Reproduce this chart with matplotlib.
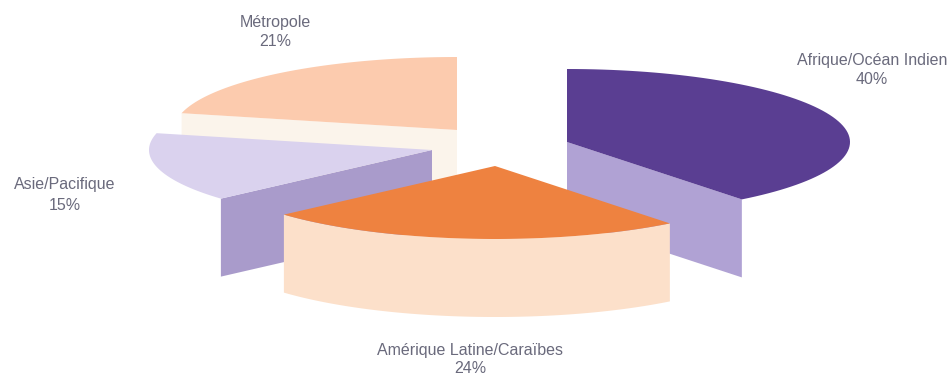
import numpy as np
import matplotlib.pyplot as plt

TITLE = "Exploded 3D pie"

names = ["Afrique/Océan Indien", "Amérique Latine/Caraïbes", "Asie/Pacifique", "Métropole"]
shares = [40, 24, 15, 21]
# the slices as drawn are a little off the printed shares
drawn_shares = [39.4, 24.0, 15.3, 21.3]

top_colors = ["#5A3E92", "#EE8240", "#DAD2EE", "#FCCBAE"]
wall_colors = ["#B0A2D4", "#FCE0CA", "#A99BCB", "#FBF4EB"]

# which face of the slice is seen: end cut, outer arc, start cut
wall_kinds = ["end", "arc", "start", "start"]

# pixel layout of the exploded slices
centers = [(567, 142), (495, 166), (432, 150), (457, 130)]
depths = [78, 78, 78, 62]
label_x = [872, 470, 65, 275]
label_y = [60, 350, 185, 22]
label_gap = [19, 18.5, 20, 19]
label_size = 11.5
rx = 283
ry = 73


def edge(center, ang):
    a = np.radians(ang)
    return center[0] + rx * np.sin(a), center[1] - ry * np.cos(a)


def plotter():
    fig = plt.figure(figsize=(9.5, 3.76), dpi=100)
    ax = fig.add_axes([0, 0, 1, 1])
    ax.set_xlim(0, 950)
    ax.set_ylim(376, 0)
    ax.axis("off")

    # clockwise from 12 o'clock
    stops = np.cumsum([0] + drawn_shares) * 3.6

    # back to front so the orange slice ends up on top
    for i in [3, 0, 2, 1]:
        c = centers[i]
        depth = depths[i]
        angs = np.linspace(stops[i], stops[i + 1], 80)
        ex, ey = edge(c, angs)

        if wall_kinds[i] == "arc":
            wx = np.r_[ex, ex[::-1]]
            wy = np.r_[ey, ey[::-1] + depth]
        else:
            tip = edge(c, stops[i + 1] if wall_kinds[i] == "end" else stops[i])
            wx = [c[0], tip[0], tip[0], c[0]]
            wy = [c[1], tip[1], tip[1] + depth, c[1] + depth]
        ax.fill(wx, wy, color=wall_colors[i], lw=0)

        ax.fill(np.r_[c[0], ex], np.r_[c[1], ey], color=top_colors[i], lw=0)

    for i, name in enumerate(names):
        ax.text(label_x[i], label_y[i], name, ha="center", va="center",
                fontsize=label_size, color="#6A6A7C", family="Liberation Sans")
        ax.text(label_x[i], label_y[i] + label_gap[i], f"{shares[i]}%", ha="center", va="center",
                fontsize=label_size, color="#6A6A7C", family="Liberation Sans")

    fig.savefig("out.png", dpi=100)


if __name__ == "__main__":
    plotter()
